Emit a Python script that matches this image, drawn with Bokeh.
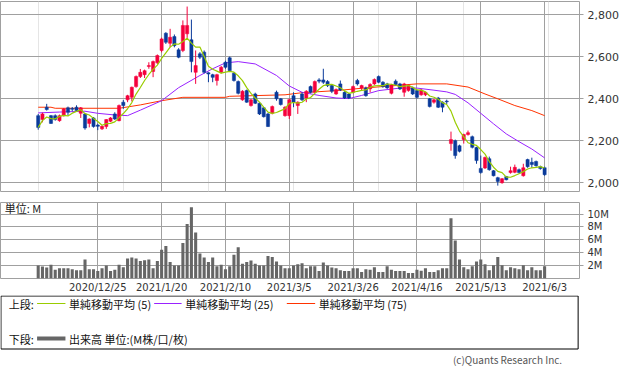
import pandas as pd
from bokeh.plotting import figure
from bokeh.layouts import column
from bokeh.models import Range1d, FixedTicker, NumeralTickFormatter, Grid, ColumnDataSource
from bokeh.core.properties import value
from bokeh.embed import file_html
from bokeh.resources import INLINE

# ---------------- data ----------------
START, END = "2020-12-07", "2021-06-03"
HOLIDAYS = ["2020-12-31", "2021-01-01", "2021-01-11", "2021-02-11", "2021-02-23",
            "2021-04-29", "2021-05-03", "2021-05-04", "2021-05-05"]
TICK_DATES = ["2020-12-25", "2021-01-20", "2021-02-10", "2021-03-05",
              "2021-03-26", "2021-04-16", "2021-05-13", "2021-06-03"]
TICK_LABELS = ["2020/12/25", "2021/1/20", "2021/2/10", "2021/3/5",
               "2021/3/26", "2021/4/16", "2021/5/13", "2021/6/3"]

OPEN = [2319, 2300, 2359, 2319, 2319, 2295, 2319, 2356, 2353, 2359,
        2330, 2327, 2282, 2308, 2274, 2256, 2267, 2292, 2327, 2295,
        2383, 2394, 2406, 2457, 2505, 2514, 2553, 2529, 2570, 2629,
        2711, 2663, 2695, 2632, 2629, 2708, 2680, 2525, 2613, 2621,
        2523, 2514, 2486, 2525, 2573, 2594, 2521, 2481, 2394, 2438,
        2367, 2422, 2378, 2356, 2327, 2330, 2430, 2399, 2319, 2319,
        2414, 2367, 2422, 2403, 2457, 2430, 2489, 2489, 2481, 2462,
        2422, 2470, 2430, 2422, 2430, 2486, 2451, 2451, 2446, 2470,
        2505, 2478, 2470, 2425, 2483, 2470, 2430, 2438, 2451, 2438,
        2418, 2418, 2399, 2383, 2403, 2383, 2388, 2186, 2200, 2176,
        2205, 2229, 2219, 2167, 2068, 2070, 2114, 2057, 2024, 2000,
        2029, 2048, 2049, 2062, 2033, 2110, 2097, 2101, 2076, 2071]
HIGH = [2327, 2333, 2375, 2322, 2325, 2324, 2355, 2362, 2360, 2368,
        2360, 2332, 2306, 2312, 2280, 2272, 2302, 2312, 2335, 2372,
        2394, 2418, 2457, 2510, 2541, 2538, 2573, 2581, 2610, 2690,
        2716, 2732, 2705, 2640, 2772, 2838, 2776, 2629, 2621, 2629,
        2525, 2518, 2518, 2555, 2580, 2600, 2525, 2486, 2440, 2443,
        2398, 2428, 2382, 2360, 2332, 2367, 2438, 2403, 2364, 2400,
        2430, 2387, 2430, 2440, 2462, 2486, 2497, 2542, 2488, 2466,
        2448, 2486, 2435, 2426, 2462, 2494, 2466, 2457, 2473, 2496,
        2510, 2483, 2475, 2470, 2491, 2475, 2475, 2467, 2457, 2443,
        2446, 2433, 2403, 2398, 2408, 2387, 2395, 2243, 2205, 2181,
        2233, 2248, 2224, 2171, 2129, 2124, 2124, 2060, 2028, 2022,
        2032, 2076, 2086, 2067, 2090, 2114, 2119, 2105, 2081, 2076]
LOW = [2252, 2287, 2343, 2280, 2295, 2290, 2315, 2319, 2340, 2338,
       2308, 2252, 2263, 2262, 2250, 2251, 2256, 2288, 2298, 2292,
       2351, 2383, 2387, 2452, 2498, 2498, 2542, 2502, 2565, 2620,
       2660, 2644, 2644, 2592, 2621, 2689, 2525, 2470, 2588, 2520,
       2478, 2478, 2462, 2520, 2542, 2528, 2481, 2420, 2390, 2380,
       2362, 2374, 2322, 2310, 2265, 2325, 2390, 2367, 2314, 2303,
       2359, 2327, 2389, 2383, 2425, 2425, 2473, 2470, 2455, 2426,
       2418, 2436, 2398, 2398, 2425, 2462, 2441, 2409, 2430, 2465,
       2473, 2452, 2446, 2420, 2462, 2441, 2409, 2433, 2417, 2400,
       2414, 2412, 2358, 2376, 2355, 2335, 2374, 2152, 2114, 2144,
       2186, 2224, 2163, 2090, 2043, 2065, 2057, 2030, 1986, 1995,
       2011, 2043, 2045, 2043, 2029, 2071, 2071, 2076, 2062, 2033]
CLOSE = [2263, 2327, 2348, 2282, 2300, 2319, 2351, 2335, 2349, 2343,
         2356, 2260, 2303, 2267, 2268, 2268, 2300, 2308, 2303, 2367,
         2367, 2414, 2454, 2505, 2525, 2533, 2557, 2576, 2605, 2684,
         2668, 2692, 2652, 2597, 2748, 2748, 2576, 2557, 2597, 2525,
         2517, 2501, 2514, 2549, 2549, 2533, 2486, 2425, 2435, 2383,
         2394, 2378, 2327, 2314, 2267, 2362, 2399, 2372, 2359, 2395,
         2383, 2383, 2394, 2435, 2430, 2481, 2483, 2478, 2462, 2435,
         2443, 2441, 2403, 2403, 2457, 2470, 2462, 2414, 2467, 2491,
         2478, 2457, 2451, 2465, 2467, 2446, 2470, 2462, 2422, 2406,
         2441, 2430, 2362, 2394, 2359, 2359, 2385, 2205, 2129, 2149,
         2229, 2238, 2168, 2105, 2048, 2120, 2062, 2033, 2006, 2019,
         2014, 2057, 2073, 2048, 2071, 2076, 2086, 2081, 2067, 2038]
VOLUME_M = [2.0, 1.85, 1.7, 2.15, 1.35, 1.6, 1.6, 1.6, 1.45, 1.3,
            1.3, 2.95, 1.45, 1.45, 1.15, 1.6, 2.0, 1.15, 1.35, 2.15,
            1.75, 3.1, 3.25, 3.1, 2.7, 2.85, 2.95, 1.6, 2.7, 4.45,
            5.05, 2.55, 2.0, 2.0, 5.5, 8.45, 11.05, 7.15, 3.9, 3.25,
            2.55, 3.25, 1.9, 2.15, 1.45, 1.9, 3.7, 4.85, 2.3, 2.55,
            2.8, 2.3, 2.0, 2.0, 3.5, 3.35, 2.65, 2.0, 1.6, 1.6,
            2.0, 2.2, 2.35, 1.6, 1.9, 1.9, 1.15, 2.5, 2.0, 1.7,
            1.6, 1.3, 1.15, 1.15, 1.6, 1.6, 1.0, 1.45, 1.35, 1.75,
            1.0, 1.0, 1.9, 1.35, 1.15, 1.15, 1.15, 0.85, 0.85, 1.35,
            1.2, 1.6, 1.0, 1.0, 1.3, 1.6, 1.6, 9.35, 5.9, 2.95,
            1.75, 1.45, 1.9, 2.65, 2.95, 2.2, 1.3, 2.05, 3.35, 2.05,
            1.3, 1.75, 1.6, 1.45, 2.05, 1.3, 1.75, 1.3, 1.3, 1.9]

# moving averages (day index, value)
MA25_DAY = [0, 5, 11, 14, 18, 21, 24, 29, 33, 38, 41, 44, 47, 51, 56, 59, 62, 66, 70, 73,
            76, 80, 85, 89, 93, 96, 98, 101, 104, 107, 110, 113, 116, 119]
MA25_VAL = [2332, 2336, 2340, 2330, 2322, 2319, 2345, 2390, 2452, 2510, 2542, 2570, 2576,
            2565, 2510, 2460, 2430, 2415, 2403, 2400, 2415, 2438, 2450, 2450, 2440, 2432,
            2420, 2380, 2330, 2280, 2232, 2195, 2160, 2118]
MA75_DAY = [0, 3, 4, 19, 24, 29, 34, 44, 45, 58, 62, 70, 77, 89, 96, 101, 105, 108, 112, 116, 119]
MA75_VAL = [2359, 2359, 2354, 2354, 2370, 2390, 2406, 2406, 2411, 2418, 2428, 2438, 2451,
            2470, 2470, 2455, 2422, 2399, 2367, 2343, 2319]

PRICE_TICKS = [2000, 2200, 2400, 2600, 2800]
VOL_TICKS = [2, 4, 6, 8, 10]

# ---------------- styles ----------------
UP = "#f5003c"
DOWN = "#0a3a9a"
GRID = "#a0a0a0"
VOLC = "#666666"
MA5C, MA25C, MA75C = "#99cc00", "#9922ff", "#ff3300"
FONT_NUM = "DejaVu Sans"
FONT_JP = "Noto Sans CJK JP"

dates = pd.bdate_range(START, END, freq="C", holidays=HOLIDAYS)
idx = list(range(len(dates)))
date_str = [d.strftime("%Y-%m-%d") for d in dates]
tick_idx = [date_str.index(d) for d in TICK_DATES]
overrides = {t: lab for t, lab in zip(tick_idx, TICK_LABELS)}

ma5 = pd.Series(CLOSE).rolling(5, min_periods=1).mean().tolist()
up = [c >= o for o, c in zip(OPEN, CLOSE)]
src = ColumnDataSource(dict(
    x=idx, o=OPEN, h=HIGH, l=LOW, c=CLOSE,
    top=[max(o, c) for o, c in zip(OPEN, CLOSE)],
    bot=[min(o, c) for o, c in zip(OPEN, CLOSE)],
    col=[UP if u else DOWN for u in up],
    vol=VOLUME_M, ma5=ma5))

X_LO, X_HI = -8.86, 127.2
xr = Range1d(X_LO, X_HI)

# ---------------- price panel ----------------
p1 = figure(width=633, height=192, x_range=xr, y_range=Range1d(1958, 2862),
            output_backend="svg", toolbar_location=None,
            x_axis_location=None, y_axis_location="right",
            min_border_left=0, min_border_right=54, min_border_top=1, min_border_bottom=1)
p1.outline_line_color = GRID
p1.add_layout(Grid(dimension=0, ticker=FixedTicker(ticks=tick_idx), grid_line_color=GRID))
p1.ygrid.ticker = FixedTicker(ticks=PRICE_TICKS)
p1.ygrid.grid_line_color = GRID
ax = p1.yaxis[0]
ax.ticker = FixedTicker(ticks=PRICE_TICKS)
ax.formatter = NumeralTickFormatter(format="0,0")
ax.axis_line_color = None
ax.major_tick_in = 0
ax.major_tick_out = 4
ax.major_tick_line_color = GRID
ax.minor_tick_line_color = None
ax.major_label_standoff = 4
ax.major_label_text_font = FONT_NUM
ax.major_label_text_font_size = "11px"
ax.major_label_text_color = "#333333"

p1.line(MA75_DAY, MA75_VAL, line_color=MA75C, line_width=1)
p1.line(MA25_DAY, MA25_VAL, line_color=MA25C, line_width=1)
p1.segment(x0="x", y0="h", x1="x", y1="l", source=src, line_color="col", line_width=1)
p1.vbar(x="x", top="top", bottom="bot", width=0.75, source=src, fill_color="col", line_color="col", line_width=0.5)
p1.line(x="x", y="ma5", source=src, line_color=MA5C, line_width=1.2)

# ---------------- volume panel ----------------
p2 = figure(width=633, height=103, x_range=xr, y_range=Range1d(0, 11.8),
            output_backend="svg", toolbar_location=None, y_axis_location="right",
            min_border_left=0, min_border_right=54, min_border_top=10, min_border_bottom=14)
p2.outline_line_color = GRID
p2.xgrid.ticker = FixedTicker(ticks=tick_idx)
p2.xgrid.grid_line_color = GRID
p2.ygrid.ticker = FixedTicker(ticks=VOL_TICKS)
p2.ygrid.grid_line_color = GRID
xa = p2.xaxis[0]
xa.ticker = FixedTicker(ticks=tick_idx)
xa.major_label_overrides = overrides
xa.axis_line_color = None
xa.major_tick_in = 0
xa.major_tick_out = 0
xa.minor_tick_line_color = None
xa.major_label_standoff = 3
xa.major_label_text_font = FONT_NUM
xa.major_label_text_font_size = "10px"
xa.major_label_text_color = "#333333"
ya = p2.yaxis[0]
ya.ticker = FixedTicker(ticks=VOL_TICKS)
ya.major_label_overrides = {v: f"{v}M" for v in VOL_TICKS}
ya.axis_line_color = None
ya.major_tick_in = 0
ya.major_tick_out = 4
ya.major_tick_line_color = GRID
ya.minor_tick_line_color = None
ya.major_label_standoff = 4
ya.major_label_text_font = FONT_NUM
ya.major_label_text_font_size = "10px"
ya.major_label_text_color = "#333333"
p2.vbar(x="x", top="vol", bottom=0, width=0.72, source=src, fill_color=VOLC, line_color=None)
p2.text(x=[X_LO + 1.0], y=[11.0], text=["単位: M"], text_font=value(FONT_JP),
        text_font_size="11px", text_baseline="middle", text_color="#222222")

# ---------------- legend panel ----------------
p3 = figure(width=633, height=77, x_range=Range1d(0, 633), y_range=Range1d(77, 0),
            output_backend="svg", toolbar_location=None,
            x_axis_location=None, y_axis_location=None,
            min_border_left=0, min_border_right=0, min_border_top=0, min_border_bottom=0)
p3.outline_line_color = None
p3.xgrid.visible = False
p3.ygrid.visible = False
p3.quad(left=[0.5], right=[631.5], top=[0.5], bottom=[53.5], fill_color=None, line_color="#000000", line_width=1)
r1, r2 = 8, 43
p3.text(x=[9, 75, 202, 348], y=[r1] * 4,
        text=["上段:", "単純移動平均 (5)", "単純移動平均 (25)", "単純移動平均 (75)"],
        text_font=value(FONT_JP), text_font_size="11px", text_baseline="middle", text_color="#111111")
p3.segment(x0=[40, 168, 313], y0=[r1] * 3, x1=[71, 198, 344], y1=[r1] * 3,
           line_color=[MA5C, MA25C, MA75C], line_width=1)
p3.text(x=[9, 75], y=[r2] * 2, text=["下段:", "出来高 単位:(M株/口/枚)"],
        text_font=value(FONT_JP), text_font_size="11px", text_baseline="middle", text_color="#111111")
p3.segment(x0=[40], y0=[r2], x1=[71], y1=[r2], line_color=VOLC, line_width=4)
p3.text(x=[614], y=[64], text=["(c)Quants Research Inc."], text_font=value(FONT_JP),
        text_font_size="10px", text_baseline="middle", text_align="right", text_color="#555555")

layout = column(p1, p2, p3, spacing=0)
open("out.html", "w").write(file_html(layout, INLINE))
